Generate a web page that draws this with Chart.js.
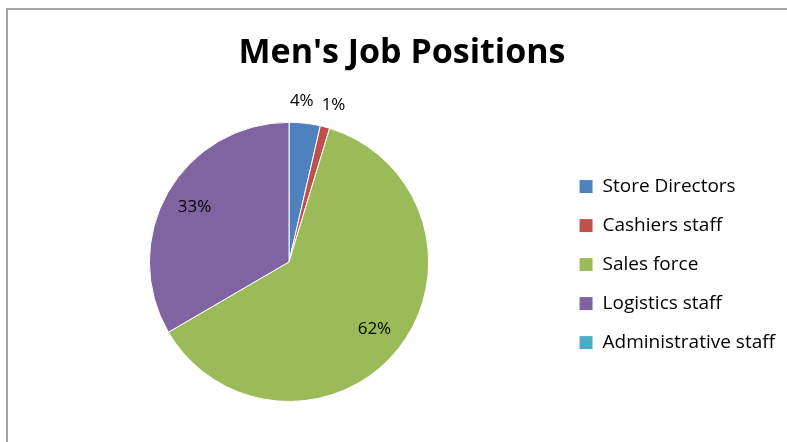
<!DOCTYPE html>
<html>
<head>
<meta charset="utf-8">
<script src="https://cdn.jsdelivr.net/npm/chart.js@4"></script>
<style>
  html, body { margin: 0; padding: 0; background: #fff; overflow: hidden; }
  #frame { position: absolute; left: 6px; top: 8px; width: 820px; height: 480px; border: 2px solid #a6a6a6; box-sizing: border-box; }
  #wrap { position: absolute; left: 0; top: 0; width: 787px; height: 442px; }
</style>
</head>
<body>
<div id="frame"></div>
<div id="wrap"><canvas id="pie"></canvas></div>
<script>
const categories = ["Store Directors", "Cashiers staff", "Sales force", "Logistics staff", "Administrative staff"];
const shares = [3.6, 1.1, 61.9, 33.4, 0];
const sliceColors = ['#4F81BD', '#C0504D', '#9BBB59', '#8064A2', '#4BACC6'];

// etiket persen seperti Excel: slice kecil di luar, lainnya di dalam
const pctLabels = {
    id: 'pctLabels',
    afterDatasetsDraw(chart) {
        const ctx = chart.ctx;
        const meta = chart.getDatasetMeta(0);
        const total = shares.reduce((a, b) => a + b, 0);
        ctx.save();
        ctx.font = '17px "Open Sans"';
        ctx.fillStyle = '#000';
        ctx.textAlign = 'center';
        ctx.textBaseline = 'middle';
        const labels = [];
        meta.data.forEach((arc, i) => {
            const v = shares[i];
            if (!v) return;
            const pct = v / total * 100;
            const text = Math.round(pct) + '%';
            const outside = pct < 5;
            const mid = (arc.startAngle + arc.endAngle) / 2;
            const r = outside ? arc.outerRadius * 1.16 : arc.outerRadius * 0.78;
            labels.push({
                text: text,
                outside: outside,
                x: arc.x + Math.cos(mid) * r,
                y: arc.y + Math.sin(mid) * r,
                w: ctx.measureText(text).width
            });
        });
        // geser label luar yang bertabrakan
        const outs = labels.filter(l => l.outside);
        for (let k = 1; k < outs.length; k++) {
            const a = outs[k - 1], b = outs[k];
            const overlap = (a.x + a.w / 2 + 8) - (b.x - b.w / 2);
            if (overlap > 0) {
                a.x -= overlap * 2 / 3;
                b.x += overlap / 3;
            }
        }
        labels.forEach(l => ctx.fillText(l.text, l.x, l.y));
        ctx.restore();
    }
};

new Chart(document.getElementById('pie').getContext('2d'), {
    type: 'pie',
    data: {
        labels: categories,
        datasets: [{
            data: shares,
            backgroundColor: sliceColors,
            borderColor: '#fff',
            borderWidth: 1
        }]
    },
    options: {
        responsive: true,
        maintainAspectRatio: false,
        animation: false,
        layout: { padding: { left: 19, right: 2, top: 0, bottom: 40 } },
        plugins: {
            title: {
                display: true,
                text: "Men's Job Positions",
                color: '#000',
                font: { family: 'Open Sans', size: 34, weight: 'bold' },
                padding: { top: 33, bottom: 48 }
            },
            legend: {
                position: 'right',
                title: { display: true, text: ' ', font: { size: 1 }, padding: { top: 126, bottom: 0 } },
                labels: {
                    color: '#000',
                    font: { family: 'Open Sans', size: 19 },
                    boxWidth: 14,
                    boxHeight: 14,
                    padding: 20
                }
            },
            tooltip: { enabled: false }
        }
    },
    plugins: [pctLabels]
});
</script>
</body>
</html>
